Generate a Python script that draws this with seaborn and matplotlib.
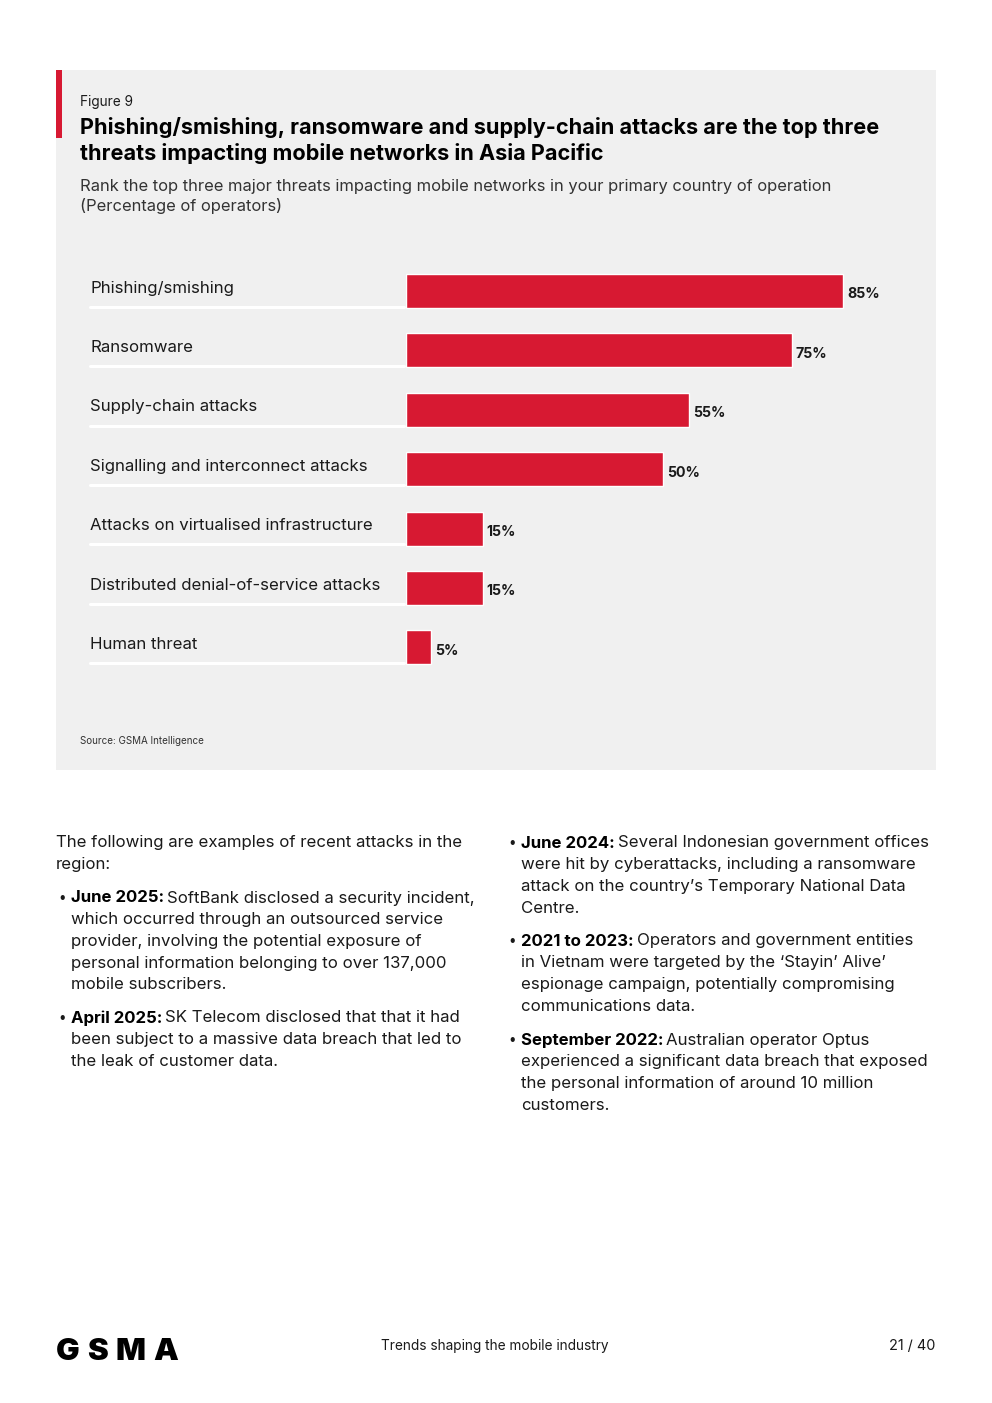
import matplotlib
matplotlib.use("Agg")
import matplotlib.pyplot as plt
import seaborn as sns
import pandas as pd
from matplotlib.patches import Rectangle
from matplotlib.lines import Line2D
import matplotlib.transforms as mtransforms

categories = ["Phishing/smishing", "Ransomware", "Supply-chain attacks",
              "Signalling and interconnect attacks", "Attacks on virtualised infrastructure",
              "Distributed denial-of-service attacks", "Human threat"]
values = [85, 75, 55, 50, 15, 15, 5]
value_labels = ["85%", "75%", "55%", "50%", "15%", "15%", "5%"]

sns.set_theme(style="white")
plt.rcParams['font.family'] = ['Inter', 'DejaVu Sans']

W, H = 992, 1403
fig = plt.figure(figsize=(W / 100, H / 100), dpi=100)
fig.patch.set_facecolor("white")

RED = "#D71932"
PANEL = "#F0F0F0"
TXT = "#1a1a1a"

def fx(px):
    return px / W

def fy(py):
    return 1 - py / H

# panel background and accent
fig.patches.append(Rectangle((fx(56), fy(770)), fx(936) - fx(56), fy(70) - fy(770),
                             transform=fig.transFigure, facecolor=PANEL, edgecolor="none", zorder=-2))
fig.patches.append(Rectangle((fx(56), fy(138)), fx(62) - fx(56), fy(70) - fy(138),
                             transform=fig.transFigure, facecolor=RED, edgecolor="none", zorder=-1))

fig.text(fx(80), fy(102), "Figure 9", fontsize=9.8, color=TXT, va="center", ha="left")
fig.text(fx(80), fy(127), "Phishing/smishing, ransomware and supply-chain attacks are the top three",
         fontsize=15.6, fontweight="bold", color="black", va="center", ha="left")
fig.text(fx(80), fy(153), "threats impacting mobile networks in Asia Pacific",
         fontsize=15.6, fontweight="bold", color="black", va="center", ha="left")
fig.text(fx(80), fy(186), "Rank the top three major threats impacting mobile networks in your primary country of operation",
         fontsize=11.9, color="#333333", va="center", ha="left")
fig.text(fx(80), fy(206), "(Percentage of operators)", fontsize=11.9, color="#333333", va="center", ha="left")
fig.text(fx(80), fy(741), "Source: GSMA Intelligence", fontsize=7.1, color="#333333", va="center", ha="left")

# bar chart axes
step = 59.4
top = 291 - step / 2
bottom = top + 7 * step
ax_left, ax_right = 405.5, 936
ax = fig.add_axes([fx(ax_left), fy(bottom), fx(ax_right) - fx(ax_left), fy(top) - fy(bottom)])
ax.set_zorder(2)
ax.patch.set_alpha(0)
px_per_unit = (843 - 405.5) / 85.0

df = pd.DataFrame({"category": categories, "value": values})
sns.barplot(data=df, x="value", y="category", orient="h", color=RED, saturation=1,
            width=34 / step, ax=ax, order=categories)
ax.set_xlim(0, (ax_right - ax_left) / px_per_unit)
ax.set_ylim(6.5, -0.5)
for s in ax.spines.values():
    s.set_visible(False)
ax.set_xticks([])
ax.set_yticks([])
ax.set_xlabel("")
ax.set_ylabel("")

for p, lab in zip(ax.patches, value_labels):
    w = p.get_width()
    yc = p.get_y() + p.get_height() / 2
    ax.annotate(lab, (w, yc), xytext=(3, -2.5), textcoords="offset points",
                ha="left", va="center", fontsize=10.2, fontweight="bold", color=TXT)

# category labels and white separators (figure x, data y)
trans = mtransforms.blended_transform_factory(fig.transFigure, ax.transData)
half = 34 / step / 2
for i, cat in enumerate(categories):
    fig.text(fx(90), i - 0.05, cat, transform=trans, fontsize=12.1, color=TXT,
             va="center", ha="left")
    fig.lines.append(Line2D([fx(90), fx(404)], [i + half - 0.02, i + half - 0.02],
                            transform=trans, color="white", lw=2.2))

# body text with inline bold leads
renderer = fig.canvas.get_renderer()
FS = 12.1
LH = 21.7

def para(x, y, lines, bold=None, bullet=False):
    if bullet:
        fig.text(fx(x - 13), fy(y), "\u2022", fontsize=FS * 0.8, color=TXT, va="center", ha="left")
    for k, ln in enumerate(lines):
        yy = fy(y + k * LH)
        if k == 0 and bold:
            t = fig.text(fx(x), yy, bold, fontsize=FS, fontweight="bold", color="black",
                         va="center", ha="left")
            bb = t.get_window_extent(renderer)
            fig.text(bb.x1 / W + fx(3), yy, ln, fontsize=FS, color=TXT, va="center", ha="left")
        else:
            fig.text(fx(x), yy, ln, fontsize=FS, color=TXT, va="center", ha="left")

para(56, 843, ["The following are examples of recent attacks in the", "region:"])
para(71, 898, ["SoftBank disclosed a security incident,",
               "which occurred through an outsourced service",
               "provider, involving the potential exposure of",
               "personal information belonging to over 137,000",
               "mobile subscribers."], bold="June 2025:", bullet=True)
para(71, 1018, ["SK Telecom disclosed that that it had",
                "been subject to a massive data breach that led to",
                "the leak of customer data."], bold="April 2025:", bullet=True)
para(521, 843, ["Several Indonesian government offices",
                "were hit by cyberattacks, including a ransomware",
                "attack on the country\u2019s Temporary National Data",
                "Centre."], bold="June 2024:", bullet=True)
para(521, 941, ["Operators and government entities",
                "in Vietnam were targeted by the \u2018Stayin\u2019 Alive\u2019",
                "espionage campaign, potentially compromising",
                "communications data."], bold="2021 to 2023:", bullet=True)
para(521, 1040, ["Australian operator Optus",
                 "experienced a significant data breach that exposed",
                 "the personal information of around 10 million",
                 "customers."], bold="September 2022:", bullet=True)

# footer: wide logo lettering spread across its box
logo = "GSMA"
lx0, lx1 = 56, 178
LFS = 22.5
tmp = []
for ch in logo:
    t = fig.text(0, 0, ch, fontsize=LFS, fontweight="black", color="black")
    tmp.append(t.get_window_extent(renderer).width)
    t.remove()
gap = ((lx1 - lx0) - sum(tmp)) / (len(logo) - 1)
xcur = lx0
for ch, wdt in zip(logo, tmp):
    fig.text(fx(xcur), fy(1352), ch, fontsize=LFS, fontweight="black", color="black",
             va="center", ha="left")
    xcur += wdt + gap
fig.text(fx(495), fy(1346), "Trends shaping the mobile industry", fontsize=9.85, color=TXT,
         va="center", ha="center")
fig.text(fx(935), fy(1346), "21 / 40", fontsize=10.4, color=TXT, va="center", ha="right")

fig.savefig("out.png", dpi=100, facecolor="white")
